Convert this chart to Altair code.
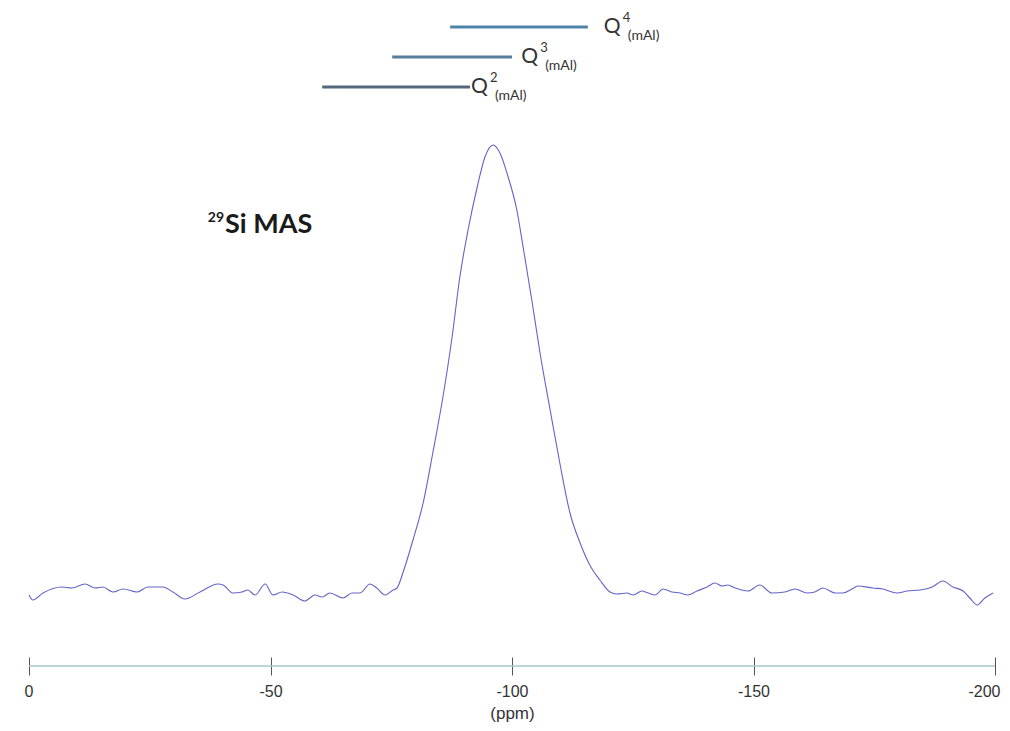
import altair as alt
import pandas as pd

# 29Si MAS NMR spectrum (chemical shift in ppm, intensity in arbitrary units)
ppm = [0.0, -0.8, -2.9, -6.8, -8.9, -11.6, -13.7, -15.3, -17.4, -19.5, -22.4, -24.6,
       -27.7, -29.8, -32.3, -35.4, -39.1, -40.2, -42.2, -44.1, -45.3, -46.8, -48.9,
       -50.5, -52.4, -54.7, -57.1, -59.2, -60.7, -62.3, -65.0, -66.9, -68.5, -70.6,
       -72.0, -73.7, -75.4, -76.2, -77.4, -79.5, -81.6, -83.6, -85.7, -87.6, -89.2,
       -90.9, -92.8, -94.4, -96.1, -97.5, -99.2, -101.0, -102.3, -104.1, -105.8,
       -107.9, -109.9, -112.0, -114.1, -116.1, -118.2, -120.3, -121.7, -123.8, -125.1,
       -126.9, -128.2, -129.6, -131.3, -133.1, -134.8, -136.4, -138.3, -140.4, -142.0,
       -143.5, -144.7, -146.2, -148.9, -151.3, -153.8, -156.5, -158.6, -161.1, -162.7,
       -164.4, -166.9, -168.5, -170.4, -171.6, -174.7, -176.8, -179.7, -181.8, -184.5,
       -187.0, -189.2, -191.3, -193.4, -194.8, -196.3, -197.9, -199.6]
intensity = [5, 0, 7, 13, 12, 16, 12, 13, 8, 11, 8, 13,
             13, 8, 1, 8, 16, 15, 7, 8, 10, 5, 16,
             5, 8, 5, -1, 5, 3, 7, 2, 7, 7, 16,
             12, 5, 10, 12, 27, 60, 97, 147, 203, 263, 323,
             370, 413, 443, 455, 447, 423, 390, 353, 300, 247,
             190, 137, 87, 57, 35, 20, 8, 6, 7, 5,
             9, 7, 5, 11, 8, 7, 5, 9, 13, 17,
             14, 15, 12, 9, 15, 7, 8, 11, 7, 8,
             12, 7, 7, 11, 14, 12, 11, 7, 9, 10,
             13, 19, 13, 9, 2, -5, 2, 7]

# Q^n (mAl) chemical-shift ranges
q_name = ["Q4", "Q3", "Q2"]
q_sup = ["4", "3", "2"]
q_sub = ["(mAl)", "(mAl)", "(mAl)"]
q_start = [-87.2, -75.2, -60.7]
q_end = [-115.7, -100.0, -91.3]
q_level = [573, 543, 513]
q_label_ppm = [-119.0, -101.9, -91.5]
q_colors = ["#4f84aa", "#577c9c", "#55687b"]

# axis ticks
tick_values = [0, -50, -100, -150, -200]

spec = pd.DataFrame({"ppm": ppm, "intensity": intensity})
qdf = pd.DataFrame({"name": q_name, "sup": q_sup, "sub": q_sub, "start": q_start,
                    "end": q_end, "level": q_level, "lab": q_label_ppm, "q": ["Q"] * 3})
note = pd.DataFrame({"x": [-40.6], "y": [367], "main": ["Si MAS"], "iso": ["29"]})
axline = pd.DataFrame({"a": [0], "b": [-200], "y": [-66]})

xs = alt.Scale(domain=[0, -200], nice=False, zero=False)
ys = alt.Scale(domain=[-57, 591], nice=False, zero=False)

FONT = "Lato"

base_line = alt.Chart(spec).mark_line(color="#6464c8", strokeWidth=1.1, interpolate="monotone").encode(
    x=alt.X("ppm:Q", scale=xs,
            axis=alt.Axis(values=tick_values, title="(ppm)", domain=False, grid=False,
                          tickSize=18, tickColor="#555555", tickWidth=1,
                          labelExpr="replace(datum.label, '\u2212', '-')",
                          labelFlush=True, labelFlushOffset=5,
                          labelFont="Liberation Sans",
                          labelFontSize=16, labelColor="#333333", labelPadding=8,
                          titleFont="Liberation Sans", titleFontSize=17,
                          titleFontWeight="normal", titleColor="#333333", titlePadding=6)),
    y=alt.Y("intensity:Q", scale=ys, axis=None),
)

ax_rule = alt.Chart(axline).mark_rule(color="#a9c6cf", strokeWidth=1.5).encode(
    x=alt.X("a:Q"), x2="b:Q", y=alt.Y("y:Q")
)

q_bars = alt.Chart(qdf).mark_rule(strokeWidth=3).encode(
    x=alt.X("start:Q"), x2="end:Q", y=alt.Y("level:Q"),
    color=alt.Color("name:N", scale=alt.Scale(domain=q_name, range=q_colors), legend=None),
)

q_text = alt.Chart(qdf).mark_text(align="left", baseline="middle", font=FONT,
                                  fontSize=21, color="#333333").encode(
    x=alt.X("lab:Q"), y=alt.Y("level:Q"), text="q:N"
)
q_suptext = alt.Chart(qdf).mark_text(align="left", baseline="middle", font=FONT,
                                     fontSize=13, color="#333333", dx=19, dy=-9).encode(
    x=alt.X("lab:Q"), y=alt.Y("level:Q"), text="sup:N"
)
q_subtext = alt.Chart(qdf).mark_text(align="left", baseline="middle", font=FONT,
                                     fontSize=14, color="#333333", dx=24, dy=9).encode(
    x=alt.X("lab:Q"), y=alt.Y("level:Q"), text="sub:N"
)

note_main = alt.Chart(note).mark_text(align="left", baseline="alphabetic", font=FONT,
                                      fontSize=27, fontWeight="bold", color="#1a1a1a").encode(
    x=alt.X("x:Q"), y=alt.Y("y:Q"), text="main:N"
)
note_iso = alt.Chart(note).mark_text(align="right", baseline="alphabetic", font=FONT,
                                     fontSize=14, fontWeight="bold", color="#1a1a1a", dx=-1, dy=-11).encode(
    x=alt.X("x:Q"), y=alt.Y("y:Q"), text="iso:N"
)

chart = alt.layer(base_line, ax_rule, q_bars, q_text, q_suptext, q_subtext, note_main, note_iso).properties(
    width=966, height=648, autosize="none",
    padding={"left": 21, "top": 1, "right": 7, "bottom": 66},
).configure_view(strokeWidth=0)

chart.save("out.html", embed_options={"renderer": "svg", "actions": False})
